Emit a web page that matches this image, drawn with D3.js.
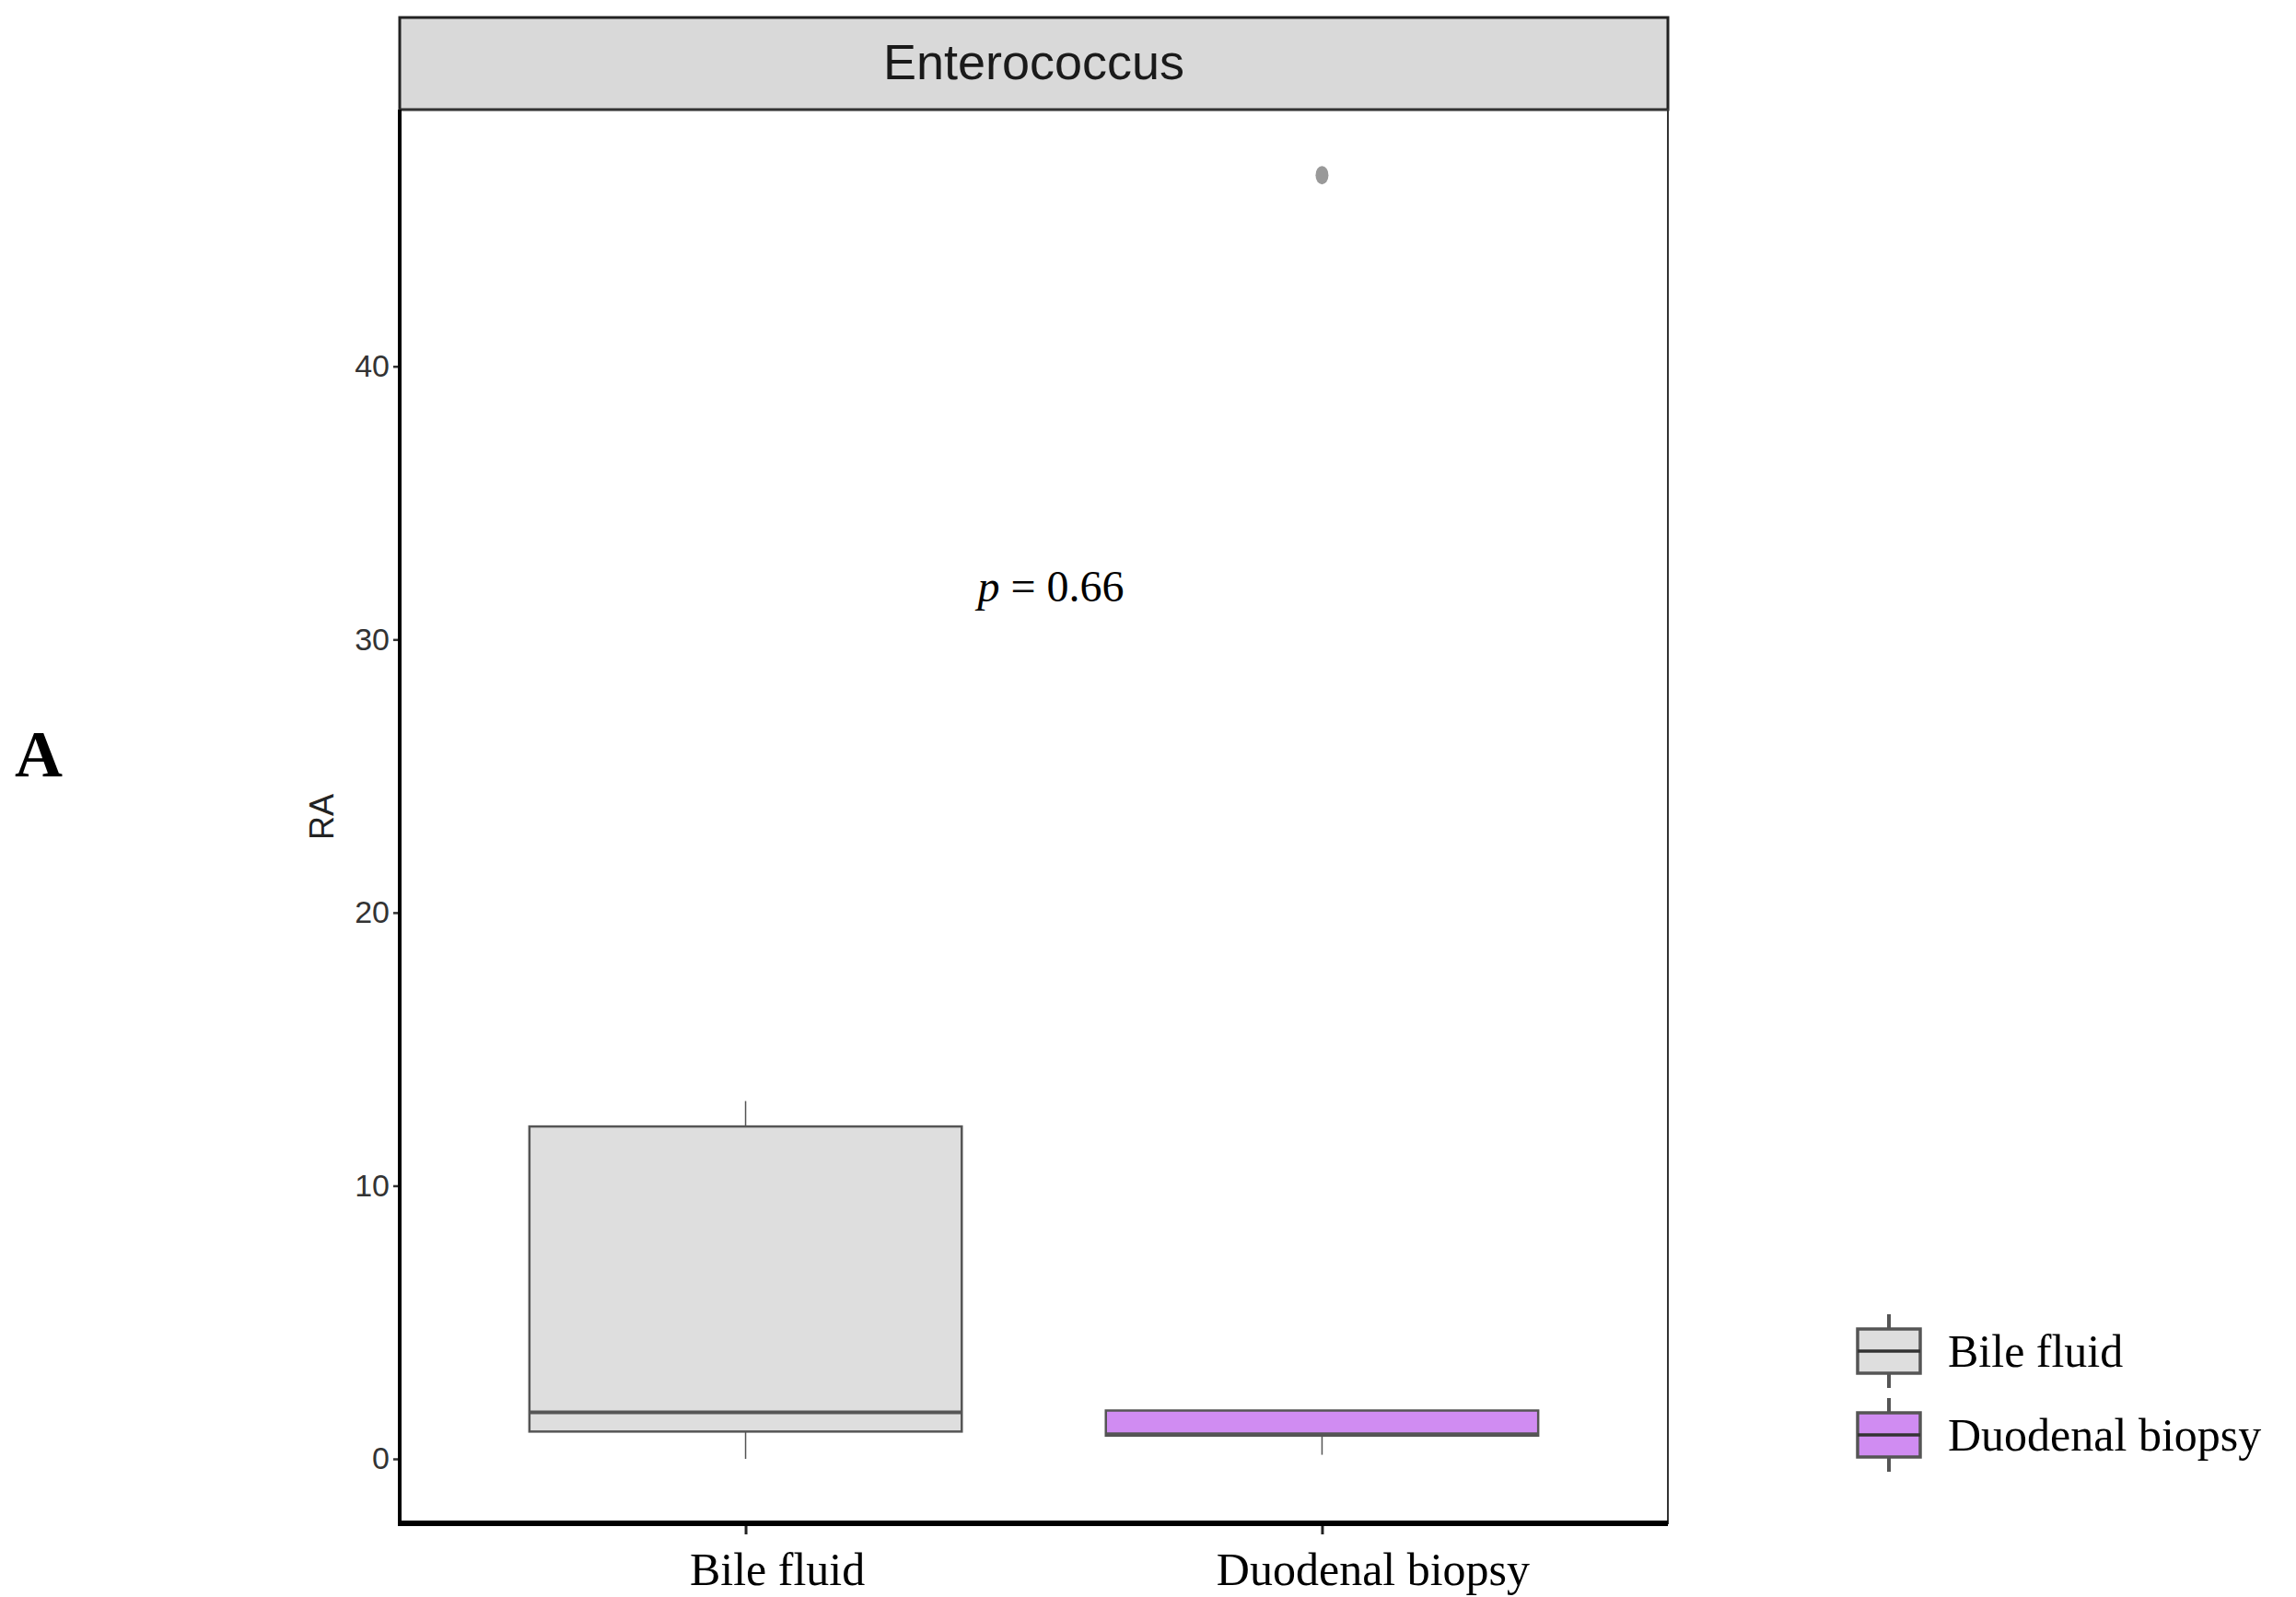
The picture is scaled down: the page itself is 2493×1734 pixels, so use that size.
<!DOCTYPE html>
<html>
<head>
<meta charset="utf-8">
<script src="https://cdn.jsdelivr.net/npm/d3@7"></script>
<style>
  body { margin: 0; background: #fff; }
</style>
</head>
<body>
<svg id="chart" width="2493" height="1734"></svg>
<script>
const categories = ["Bile fluid", "Duodenal biopsy"];
const fills = ["#DEDEDE", "#D08CF2"];
// box stats: whisker low, q1, median, q3, whisker high
const lows = [0, 0.15];
const q1s = [1.0, 0.85];
const medians = [1.7, 0.9];
const q3s = [12.17, 1.77];
const highs = [13.1, 1.77];
const outliers = [[], [47.0]];
const yTicks = [0, 10, 20, 30, 40];
const pLabel = "0.66";

const svg = d3.select("#chart");
const panel = { left: 434, right: 1811, top: 119, bottom: 1654 };

const y = d3.scaleLinear().domain([-2.36, 49.4]).range([panel.bottom, panel.top]);
const x = d3.scaleBand().domain(categories)
  .range([panel.left, panel.right]).paddingInner(0.2 / 1.0).paddingOuter(0.5);
// ggplot-like continuous positions: centre of category i
const xc = d3.scaleLinear().domain([0.4, 2.6]).range([panel.left, panel.right]);
const boxW = xc(1.375) - xc(1);

// strip
svg.append("rect").attr("x", panel.left).attr("y", 19)
  .attr("width", panel.right - panel.left).attr("height", panel.top - 19)
  .attr("fill", "#D9D9D9").attr("stroke", "#222").attr("stroke-width", 3);
svg.append("text").attr("x", (panel.left + panel.right) / 2).attr("y", 86)
  .attr("text-anchor", "middle").attr("font-family", "Liberation Sans Narrow, Liberation Sans, Arial")
  .attr("font-size", 54).attr("fill", "#1a1a1a").text("Enterococcus");

// panel border
svg.append("rect").attr("x", panel.left).attr("y", panel.top)
  .attr("width", panel.right - panel.left).attr("height", panel.bottom - panel.top)
  .attr("fill", "none").attr("stroke", "#333").attr("stroke-width", 2);

const g = svg.append("g");
categories.forEach((c, i) => {
  const cx = xc(i + 1);
  g.append("line").attr("x1", cx).attr("x2", cx).attr("y1", y(q3s[i])).attr("y2", y(highs[i]))
    .attr("stroke", "#555").attr("stroke-width", 1.5);
  g.append("line").attr("x1", cx).attr("x2", cx).attr("y1", y(q1s[i])).attr("y2", y(lows[i]))
    .attr("stroke", "#555").attr("stroke-width", 1.5);
  g.append("rect").attr("x", cx - boxW).attr("width", 2 * boxW)
    .attr("y", y(q3s[i])).attr("height", y(q1s[i]) - y(q3s[i]))
    .attr("fill", fills[i]).attr("stroke", "#555").attr("stroke-width", 2.5);
  g.append("line").attr("x1", cx - boxW).attr("x2", cx + boxW)
    .attr("y1", y(medians[i])).attr("y2", y(medians[i]))
    .attr("stroke", "#555").attr("stroke-width", 4);
  outliers[i].forEach(v => {
    g.append("ellipse").attr("cx", cx).attr("cy", y(v)).attr("rx", 7).attr("ry", 10).attr("fill", "#999");
  });
});

// axes
const yAxis = svg.append("g").attr("transform", `translate(${panel.left},0)`)
  .call(d3.axisLeft(y).tickValues(yTicks).tickSize(7).tickPadding(4));
yAxis.select(".domain").remove();
yAxis.selectAll("text").attr("font-family", "Liberation Sans Narrow, Liberation Sans, Arial")
  .attr("font-size", 34).attr("fill", "#333");
yAxis.selectAll("line").attr("stroke", "#333").attr("stroke-width", 2.5);
svg.append("line").attr("x1", panel.left).attr("x2", panel.left)
  .attr("y1", panel.top).attr("y2", panel.bottom + 2).attr("stroke", "#000").attr("stroke-width", 4);

const xAxis = svg.append("g").attr("transform", `translate(0,${panel.bottom})`)
  .call(d3.axisBottom(xc).tickValues([1, 2]).tickFormat(d => categories[d - 1]).tickSize(12).tickPadding(10));
xAxis.select(".domain").remove();
xAxis.selectAll("text").attr("font-family", "Liberation Serif, Times New Roman, serif")
  .attr("font-size", 50).attr("fill", "#000").attr("dy", "0.9em")
  .attr("dx", (d, i) => i === 0 ? 34 : 55);
xAxis.selectAll("line").attr("stroke", "#222").attr("stroke-width", 3);
svg.append("line").attr("x1", panel.left - 2).attr("x2", panel.right)
  .attr("y1", panel.bottom).attr("y2", panel.bottom).attr("stroke", "#000").attr("stroke-width", 6);

// y title
svg.append("text").attr("transform", `translate(362,${y(23.5)}) rotate(-90)`)
  .attr("text-anchor", "middle").attr("font-family", "Liberation Sans, Arial")
  .attr("font-size", 36).attr("fill", "#222").text("RA");

// p value
const pt = svg.append("text").attr("x", 1141).attr("y", y(31.4))
  .attr("text-anchor", "middle").attr("font-family", "Liberation Serif, Times New Roman, serif")
  .attr("font-size", 48).attr("fill", "#000");
pt.append("tspan").attr("font-style", "italic").text("p");
pt.append("tspan").text(" = " + pLabel);

// panel letter
svg.append("text").attr("x", 16).attr("y", 843).attr("font-family", "Liberation Serif, Times New Roman, serif")
  .attr("font-weight", "bold").attr("font-size", 72).text("A");

// legend
categories.forEach((c, i) => {
  const ky = 1443 + i * 91, kx = 2017, kw = 68, kh = 48;
  const lg = svg.append("g");
  lg.append("line").attr("x1", kx + kw / 2).attr("x2", kx + kw / 2).attr("y1", ky - 16).attr("y2", ky + kh + 16)
    .attr("stroke", "#555").attr("stroke-width", 4);
  lg.append("rect").attr("x", kx).attr("y", ky).attr("width", kw).attr("height", kh)
    .attr("fill", fills[i]).attr("stroke", "#555").attr("stroke-width", 3.5);
  lg.append("line").attr("x1", kx).attr("x2", kx + kw).attr("y1", ky + kh / 2).attr("y2", ky + kh / 2)
    .attr("stroke", "#333").attr("stroke-width", 3.5);
  lg.append("text").attr("x", 2115).attr("y", ky + kh / 2 + 17)
    .attr("font-family", "Liberation Serif, Times New Roman, serif").attr("font-size", 50).text(c);
});
</script>
</body>
</html>
